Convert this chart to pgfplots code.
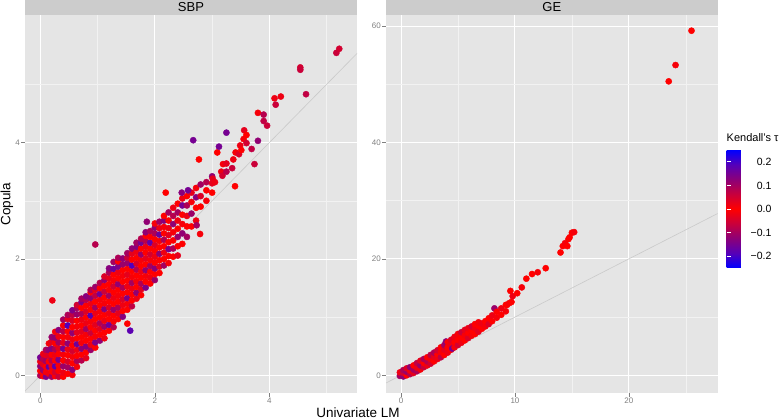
\documentclass[border=0pt]{standalone}
\usepackage{fontspec}
\setmainfont{Liberation Sans}
\usepackage{pgfplots}
\usepackage{pgfplotstable}
\pgfplotsset{compat=1.18}

\definecolor{panelbg}{HTML}{E5E5E5}
\definecolor{minorgrid}{HTML}{F2F2F2}
\definecolor{stripbg}{HTML}{CCCCCC}
\definecolor{tickgrey}{HTML}{7F7F7F}
\definecolor{ablinegrey}{HTML}{BEBEBE}

\pgfplotsset{
  colormap={kendall}{rgb255(0cm)=(0,0,255) rgb255(1cm)=(85,0,185) rgb255(2cm)=(140,0,120)
    rgb255(3cm)=(200,0,60) rgb255(4cm)=(255,0,0) rgb255(5cm)=(200,0,60)
    rgb255(6cm)=(140,0,120) rgb255(7cm)=(85,0,185) rgb255(8cm)=(0,0,255)},
  ggpanel/.style={
    scale only axis, height=378pt,
    axis background/.style={fill=panelbg},
    axis line style={draw=none},
    grid=both,
    major grid style={white, line width=1pt},
    minor grid style={minorgrid, line width=0.5pt},
    tick align=outside, tick pos=left,
    major tick length=4pt, minor tick length=0pt,
    tick style={tickgrey, line width=0.5pt},
    ticklabel style={font=\fontsize{8}{9}\selectfont, text=tickgrey, inner sep=1pt},
    /pgf/number format/assume math mode=true,
    colormap name=kendall,
    point meta min=-0.25, point meta max=0.25,
    every axis title shift=0pt,
    title style={at={(0.5,1)}, anchor=south, fill=stripbg, inner sep=0pt,
      minimum height=15pt, font=\fontsize{13}{13}\selectfont},
  },
  ggpoints/.style={scatter, only marks, mark=*, mark size=3.1pt, scatter src=explicit,
    scatter/use mapped color={draw=mapped color, fill=mapped color}},
  abline/.style={ablinegrey, line width=0.6pt, opacity=0.7},
}

% SBP: dense band, read column by column from the cloud
\pgfplotstableread{
x y c
0.00 0.00 0.09
0.00 0.08 0.00
0.00 0.16 -0.12
0.00 0.24 0.02
0.00 0.31 0.15
0.05 -0.01 0.00
0.05 0.09 0.11
0.05 0.19 -0.03
0.05 0.28 0.08
0.05 0.37 0.02
0.10 -0.02 -0.14
0.10 0.06 0.01
0.10 0.15 0.00
0.10 0.25 0.10
0.10 0.35 0.03
0.10 0.44 -0.09
0.15 0.03 0.02
0.15 0.15 -0.17
0.15 0.24 0.00
0.15 0.34 0.04
0.15 0.44 0.12
0.15 0.55 0.01
0.20 -0.02 0.10
0.20 0.07 0.00
0.20 0.16 0.02
0.20 0.26 -0.08
0.20 0.36 0.00
0.20 0.46 0.13
0.20 0.58 0.03
0.20 0.66 -0.11
0.26 -0.01 0.00
0.26 0.06 0.05
0.26 0.16 0.18
0.26 0.26 0.00
0.26 0.35 -0.02
0.26 0.45 0.09
0.26 0.55 0.00
0.26 0.65 0.12
0.26 0.75 0.01
0.32 -0.02 -0.06
0.32 0.08 0.00
0.32 0.17 0.01
0.32 0.27 0.14
0.32 0.37 0.00
0.32 0.47 -0.03
0.32 0.57 0.10
0.32 0.67 0.02
0.32 0.78 -0.13
0.40 -0.02 0.00
0.40 0.05 0.02
0.40 0.16 0.11
0.40 0.26 0.00
0.40 0.36 -0.01
0.40 0.46 -0.15
0.40 0.56 0.03
0.40 0.66 0.00
0.40 0.76 0.08
0.40 0.86 0.01
0.40 0.96 0.10
0.48 0.03 0.00
0.48 0.14 -0.10
0.48 0.24 0.04
0.48 0.35 0.00
0.48 0.45 0.02
0.48 0.55 0.12
0.48 0.66 -0.01
0.48 0.76 0.00
0.48 0.86 0.19
0.48 0.97 0.03
0.48 1.04 0.09
0.56 0.01 0.01
0.56 0.10 0.13
0.56 0.21 0.00
0.56 0.32 0.01
0.56 0.42 -0.05
0.56 0.52 0.00
0.56 0.62 0.02
0.56 0.73 -0.12
0.56 0.83 0.00
0.56 0.94 0.04
0.56 1.04 0.07
0.56 1.12 -0.14
0.64 0.15 0.01
0.64 0.25 0.09
0.64 0.34 0.00
0.64 0.44 0.02
0.64 0.54 0.16
0.64 0.64 0.00
0.64 0.74 0.03
0.64 0.84 -0.01
0.64 0.94 0.00
0.64 1.05 -0.11
0.64 1.16 0.10
0.64 1.21 0.05
0.72 0.26 -0.08
0.72 0.36 0.00
0.72 0.46 0.12
0.72 0.56 0.01
0.72 0.66 0.00
0.72 0.76 0.03
0.72 0.86 0.00
0.72 0.96 -0.02
0.72 1.06 0.09
0.72 1.16 0.00
0.72 1.26 0.14
0.72 1.32 -0.10
0.80 0.30 0.03
0.80 0.40 0.00
0.80 0.50 -0.13
0.80 0.60 0.00
0.80 0.70 0.01
0.80 0.80 0.10
0.80 0.90 0.02
0.80 1.00 0.00
0.80 1.10 -0.04
0.80 1.20 0.00
0.80 1.30 0.08
0.80 1.36 0.13
0.88 0.44 0.11
0.88 0.53 -0.02
0.88 0.63 0.00
0.88 0.73 0.06
0.88 0.83 0.00
0.88 0.93 0.01
0.88 1.03 -0.18
0.88 1.13 0.00
0.88 1.23 0.02
0.88 1.33 0.12
0.88 1.43 0.00
0.88 1.47 -0.09
0.96 0.48 0.00
0.96 0.57 0.14
0.96 0.67 0.01
0.96 0.77 0.00
0.96 0.87 -0.03
0.96 0.97 0.00
0.96 1.07 0.02
0.96 1.17 0.10
0.96 1.27 0.00
0.96 1.37 -0.07
0.96 1.47 0.03
0.96 1.52 0.11
1.04 0.60 -0.12
1.04 0.70 0.00
1.04 0.80 0.03
1.04 0.90 0.09
1.04 1.00 0.00
1.04 1.10 0.01
1.04 1.20 0.00
1.04 1.30 -0.01
1.04 1.40 0.15
1.04 1.50 0.00
1.04 1.59 0.08
1.12 0.64 0.02
1.12 0.74 0.00
1.12 0.84 0.10
1.12 0.94 -0.02
1.12 1.04 0.00
1.12 1.14 0.13
1.12 1.24 0.01
1.12 1.34 0.00
1.12 1.44 -0.06
1.12 1.54 0.00
1.12 1.64 0.12
1.12 1.70 0.04
1.20 0.77 0.00
1.20 0.87 -0.16
1.20 0.97 0.00
1.20 1.07 0.02
1.20 1.17 0.04
1.20 1.27 0.00
1.20 1.37 -0.10
1.20 1.47 0.01
1.20 1.57 0.00
1.20 1.67 0.03
1.20 1.77 0.09
1.20 1.84 -0.13
1.28 0.83 0.08
1.28 0.93 0.01
1.28 1.03 0.00
1.28 1.13 0.11
1.28 1.23 0.00
1.28 1.33 0.02
1.28 1.43 0.00
1.28 1.53 0.05
1.28 1.63 -0.01
1.28 1.73 0.00
1.28 1.83 0.16
1.28 1.95 0.10
1.36 0.97 0.00
1.36 1.07 0.03
1.36 1.17 -0.09
1.36 1.27 0.00
1.36 1.37 0.01
1.36 1.47 0.00
1.36 1.57 0.12
1.36 1.67 0.00
1.36 1.77 0.02
1.36 1.87 -0.14
1.36 1.96 0.00
1.36 2.02 0.09
1.44 1.01 0.13
1.44 1.11 0.00
1.44 1.21 0.02
1.44 1.31 -0.04
1.44 1.41 0.00
1.44 1.51 0.09
1.44 1.61 0.00
1.44 1.71 0.01
1.44 1.81 0.00
1.44 1.91 0.11
1.44 2.01 -0.12
1.52 1.13 0.00
1.52 1.23 0.01
1.52 1.33 0.14
1.52 1.43 0.00
1.52 1.53 -0.02
1.52 1.63 0.00
1.52 1.73 0.03
1.52 1.83 0.00
1.52 1.93 -0.11
1.52 2.02 0.06
1.52 2.10 0.10
1.60 1.19 -0.07
1.60 1.29 0.00
1.60 1.39 0.00
1.60 1.49 0.02
1.60 1.59 0.10
1.60 1.69 0.01
1.60 1.79 0.00
1.60 1.89 -0.19
1.60 1.99 0.00
1.60 2.09 0.03
1.60 2.18 0.12
1.68 1.32 0.02
1.68 1.42 0.12
1.68 1.52 0.00
1.68 1.62 0.01
1.68 1.72 0.00
1.68 1.82 -0.08
1.68 1.92 0.04
1.68 2.02 0.00
1.68 2.12 0.02
1.68 2.21 0.13
1.68 2.28 -0.10
1.76 1.38 0.00
1.76 1.48 -0.03
1.76 1.58 0.09
1.76 1.68 0.00
1.76 1.78 0.02
1.76 1.88 0.00
1.76 1.98 0.01
1.76 2.08 0.11
1.76 2.18 0.00
1.76 2.28 -0.15
1.76 2.35 0.08
1.84 1.51 0.14
1.84 1.61 0.00
1.84 1.71 0.01
1.84 1.81 -0.12
1.84 1.91 0.00
1.84 2.01 0.03
1.84 2.11 0.00
1.84 2.21 0.02
1.84 2.31 0.08
1.84 2.40 0.00
1.84 2.46 0.12
1.92 1.58 0.00
1.92 1.68 0.02
1.92 1.78 0.00
1.92 1.88 0.10
1.92 1.98 0.01
1.92 2.08 -0.05
1.92 2.18 0.00
1.92 2.28 0.17
1.92 2.38 0.00
1.92 2.48 0.09
2.00 1.64 0.11
2.00 1.74 0.00
2.00 1.84 -0.13
2.00 1.94 0.00
2.00 2.04 0.02
2.00 2.14 0.00
2.00 2.24 0.04
2.00 2.34 0.00
2.00 2.44 -0.09
2.00 2.54 0.12
2.00 2.61 0.01
2.08 1.76 0.00
2.08 1.87 0.03
2.08 1.98 0.00
2.08 2.09 0.12
2.08 2.20 0.00
2.08 2.31 0.01
2.08 2.42 -0.16
2.08 2.53 0.02
2.08 2.64 0.10
2.16 1.89 -0.10
2.16 2.00 0.00
2.16 2.11 0.02
2.16 2.22 0.00
2.16 2.33 0.09
2.16 2.44 0.00
2.16 2.55 0.01
2.16 2.66 0.13
2.16 2.74 0.00
2.24 1.93 0.01
2.24 2.05 0.00
2.24 2.17 0.14
2.24 2.29 0.00
2.24 2.41 -0.03
2.24 2.53 0.02
2.24 2.66 0.00
2.24 2.80 0.10
2.32 2.04 0.00
2.32 2.18 0.09
2.32 2.32 0.00
2.32 2.46 0.01
2.32 2.60 0.12
2.32 2.74 -0.08
2.32 2.88 0.02
2.40 2.06 0.03
2.40 2.22 0.00
2.40 2.38 -0.11
2.40 2.52 0.00
2.40 2.66 0.02
2.40 2.80 0.10
2.40 2.95 0.00
2.48 2.26 0.00
2.48 2.44 0.12
2.48 2.60 0.01
2.48 2.76 0.00
2.48 2.92 0.15
2.48 3.04 0.02
2.56 2.38 0.10
2.56 2.56 0.00
2.56 2.74 0.02
2.56 2.92 -0.09
2.56 3.08 0.00
2.64 2.56 0.00
2.64 2.78 0.11
2.64 2.98 0.01
2.64 3.14 0.03
2.72 2.66 0.02
2.72 2.88 0.00
2.72 3.06 0.13
2.72 3.22 0.01
2.80 2.90 0.00
2.80 3.08 0.04
2.80 3.28 0.10
2.90 3.00 0.01
2.90 3.18 0.00
2.90 3.32 0.08
3.00 3.14 0.00
3.00 3.30 0.03
3.00 3.42 0.12
}\sbpband

% SBP: sparse points and outliers
\pgfplotstableread{
x y c
0.21 1.29 0.02
0.96 2.25 0.08
1.57 0.77 -0.18
1.52 0.89 0.00
1.86 2.64 0.12
2.19 3.14 0.00
2.47 3.14 0.13
2.58 3.18 0.15
2.67 4.04 0.15
2.73 2.58 0.10
2.79 2.43 0.01
2.77 3.71 0.00
3.01 3.38 0.03
3.05 3.32 0.02
3.09 3.83 0.00
3.12 3.93 0.15
3.16 3.50 0.02
3.18 3.43 0.05
3.19 3.63 0.01
3.25 3.50 0.08
3.25 3.64 0.03
3.25 4.17 0.15
3.35 3.56 0.06
3.37 3.71 0.02
3.40 3.25 0.00
3.41 3.83 0.01
3.47 3.80 0.04
3.49 3.95 0.02
3.51 3.87 0.00
3.55 4.06 0.01
3.56 4.21 0.03
3.60 3.99 0.05
3.60 4.13 0.00
3.69 3.89 0.07
3.74 3.63 0.06
3.80 4.03 0.12
3.80 4.51 0.01
3.90 4.48 0.08
3.90 4.37 0.07
3.96 4.29 0.06
4.09 4.76 0.02
4.11 4.65 0.06
4.20 4.79 0.02
4.54 5.29 0.05
4.54 5.25 0.06
4.64 4.83 0.07
5.17 5.54 0.06
5.22 5.61 0.05
}\sbpsparse

% GE
\pgfplotstableread{
x y c
-0.1 -0.1 0.10
-0.1 0.5 0.02
0.2 -0.2 0.12
0.2 0.4 0.05
0.2 0.9 0.09
0.5 0.0 0.00
0.5 0.6 0.11
0.5 1.2 0.04
0.8 0.2 0.08
0.8 0.8 0.01
0.8 1.4 0.12
1.1 0.4 0.03
1.1 1.0 0.10
1.1 1.7 0.00
1.4 0.7 0.09
1.4 1.3 0.02
1.4 2.1 0.07
1.7 1.0 0.01
1.7 1.7 0.11
1.7 2.5 0.03
2.0 1.4 0.06
2.0 2.1 0.00
2.0 2.8 0.09
2.3 1.7 0.02
2.3 2.4 0.08
2.3 3.1 0.00
2.6 2.0 0.05
2.6 2.8 0.01
2.6 3.5 0.07
2.9 2.4 0.00
2.9 3.2 0.03
2.9 3.9 0.09
3.2 2.8 0.02
3.2 3.6 0.00
3.2 4.3 0.05
3.5 3.1 0.07
3.5 4.0 0.01
3.5 4.8 0.00
3.8 3.5 0.00
3.8 4.4 0.03
3.8 5.2 0.10
3.95 5.8 0.13
4.1 3.9 0.02
4.1 4.8 0.00
4.1 5.7 0.01
4.4 4.4 0.00
4.4 5.2 0.02
4.4 6.1 0.04
4.5 4.6 -0.15
4.7 4.8 0.01
4.7 5.7 0.00
4.7 6.6 0.02
5.0 5.2 0.05
5.0 6.1 0.00
5.0 7.1 0.01
5.3 5.6 0.02
5.3 6.5 0.00
5.3 7.4 0.06
5.6 6.0 0.00
5.6 6.9 0.01
5.6 7.8 0.03
5.9 6.4 0.04
5.9 7.3 0.00
5.9 8.1 0.02
6.2 6.8 0.01
6.2 7.7 0.00
6.2 8.4 0.05
6.5 7.1 0.00
6.5 8.1 0.02
6.5 8.8 0.00
6.8 7.5 0.03
6.8 8.5 0.00
6.8 9.1 0.01
7.1 8.0 0.00
7.1 8.9 0.02
7.4 8.4 0.01
7.4 9.3 0.00
7.7 8.8 0.04
7.7 9.8 0.00
8.0 9.3 0.00
8.0 10.3 0.02
8.2 11.5 0.11
8.4 9.9 0.01
8.4 10.9 0.00
8.8 10.4 0.00
8.8 11.5 0.02
9.2 11.0 0.01
9.2 12.1 0.00
9.3 12.1 0.00
9.5 12.4 0.01
9.6 14.5 0.00
9.7 12.6 0.00
9.8 13.6 0.02
10.2 14.1 0.00
10.6 15.1 0.01
11.0 16.6 0.00
11.5 17.4 0.00
12.0 17.7 0.01
12.7 18.4 0.00
14.0 21.1 0.00
14.2 22.2 0.00
14.4 22.7 0.01
14.6 22.2 0.00
14.7 23.4 0.00
14.8 23.7 0.00
15.0 24.5 0.00
15.2 24.6 0.01
23.5 50.5 0.00
24.1 53.3 0.01
25.5 59.2 0.00
}\gedata

\begin{document}
\begin{tikzpicture}
\useasboundingbox (0pt,0pt) rectangle (779pt,-420pt);

\begin{axis}[
  ggpanel,
  at={(25pt,-393pt)}, anchor=south west,
  width=332pt,
  xmin=-0.267, xmax=5.53, ymin=-0.30, ymax=6.19,
  xtick={0,2,4}, minor xtick={1,3,5},
  ytick={0,2,4}, minor ytick={1,3,5},
  title={SBP},
  title style={minimum width=332pt},
  xlabel={Univariate LM},
  xlabel style={at={(axis description cs:1.003,0)}, anchor=base, yshift=-24pt,
    font=\fontsize{13.5}{14}\selectfont},
  ylabel={Copula},
  ylabel style={at={(axis description cs:-0.0437,0.5)}, anchor=base,
    font=\fontsize{13.5}{14}\selectfont},
]
\addplot[ggpoints] table[meta=c] {\sbpband};
\addplot[ggpoints] table[meta=c] {\sbpsparse};
\addplot[abline] coordinates {(-5,-5) (70,70)};
\end{axis}

\begin{axis}[
  ggpanel,
  at={(386pt,-393pt)}, anchor=south west,
  width=331.7pt,
  xmin=-1.32, xmax=27.8, ymin=-3.04, ymax=61.9,
  xtick={0,10,20}, minor xtick={5,15,25},
  ytick={0,20,40,60}, minor ytick={10,30,50},
  title={GE},
  title style={minimum width=331.7pt},
  colorbar,
  colorbar style={
    scale only axis,
    at={(parent axis.north east)}, anchor=north west,
    xshift=0.3pt, yshift=-135pt,
    width=24pt, height=118pt,
    axis line style={draw=none},
    ytick={-0.2,-0.1,0,0.1,0.2},
    yticklabels={−0.2,−0.1,0.0,0.1,0.2},
    ytick pos=both, yticklabel pos=right,
    tick align=inside, major tick length=4.5pt,
    ytick style={white, line width=0.8pt},
    yticklabel style={font=\fontsize{10.5}{11}\selectfont, text=black,
      anchor=east, inner sep=0pt, xshift=21pt},
    title={Kendall's τ},
    title style={at={(0,1)}, anchor=base west, yshift=3pt, inner sep=0pt,
      font=\fontsize{11}{11}\selectfont},
  },
]
\addplot[ggpoints] table[meta=c] {\gedata};
\addplot[abline] coordinates {(-5,-5) (70,70)};
\end{axis}
\end{tikzpicture}
\end{document}
